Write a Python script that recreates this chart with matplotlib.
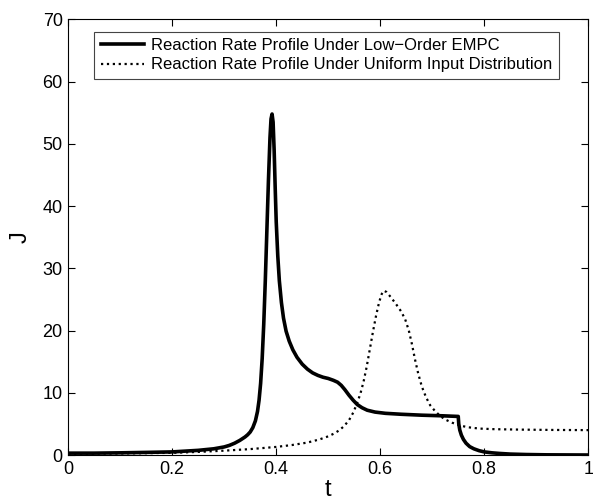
import matplotlib
matplotlib.use("Agg")
import matplotlib.pyplot as plt
import numpy as np

# reaction rate under low-order EMPC (solid)
t_empc = [0, 0.05, 0.1, 0.15, 0.2, 0.25, 0.28, 0.30, 0.31, 0.32, 0.33, 0.34, 0.345,
          0.35, 0.355, 0.36, 0.364, 0.367, 0.370, 0.373, 0.376, 0.379, 0.382, 0.385,
          0.388, 0.390, 0.392, 0.394, 0.396, 0.398, 0.400, 0.403, 0.406, 0.410,
          0.414, 0.419, 0.425, 0.432, 0.440, 0.450, 0.460, 0.470, 0.480, 0.490,
          0.500, 0.510, 0.518, 0.525, 0.532, 0.540, 0.548, 0.556, 0.565, 0.575,
          0.590, 0.610, 0.640, 0.680, 0.720, 0.750, 0.751, 0.753, 0.756, 0.760,
          0.765, 0.772, 0.780, 0.790, 0.800, 0.815, 0.830, 0.850, 0.880, 0.920, 1.0]
J_empc = [0.3, 0.3, 0.35, 0.42, 0.5, 0.75, 1.0, 1.3, 1.55, 1.9, 2.35, 2.9, 3.25,
          3.7, 4.4, 5.5, 7.0, 8.8, 11.5, 15.5, 21, 28, 36, 44,
          51, 54, 54.8, 53.5, 49, 43, 37.5, 32, 28, 24.5,
          22, 19.9, 18.3, 16.9, 15.7, 14.6, 13.8, 13.2, 12.8, 12.5,
          12.3, 12.0, 11.7, 11.2, 10.5, 9.6, 8.8, 8.1, 7.6, 7.2,
          6.9, 6.7, 6.55, 6.4, 6.3, 6.2, 5.0, 4.0, 3.2, 2.5,
          1.9, 1.35, 1.0, 0.7, 0.5, 0.35, 0.25, 0.15, 0.08, 0.03, 0.0]

# reaction rate under uniform input distribution (dotted)
t_unif = [0, 0.1, 0.2, 0.25, 0.3, 0.35, 0.4, 0.43, 0.46, 0.483, 0.50, 0.51, 0.52,
          0.53, 0.54, 0.548, 0.555, 0.562, 0.568, 0.574, 0.580, 0.586, 0.592,
          0.598, 0.603, 0.607, 0.612, 0.620, 0.630, 0.640, 0.648, 0.655, 0.661,
          0.667, 0.673, 0.680, 0.688, 0.696, 0.705, 0.715, 0.725, 0.738, 0.755,
          0.770, 0.790, 0.82, 0.87, 0.93, 1.0]
J_unif = [0.2, 0.25, 0.35, 0.5, 0.7, 0.95, 1.3, 1.6, 2.0, 2.5, 3.0, 3.4, 3.9,
          4.6, 5.6, 6.8, 8.2, 9.9, 11.8, 14.2, 17.0, 19.8, 22.4,
          24.6, 25.9, 26.4, 26.2, 25.4, 24.3, 23.1, 21.8, 20.0, 17.8,
          15.3, 13.1, 11.0, 9.3, 8.0, 7.1, 6.3, 5.7, 5.2, 4.7,
          4.45, 4.25, 4.15, 4.08, 4.03, 4.0]

xticks = [0, 0.2, 0.4, 0.6, 0.8, 1]
xlabels = ["0", "0.2", "0.4", "0.6", "0.8", "1"]
yticks = list(range(0, 71, 10))

plt.rcParams['font.family'] = ['Liberation Sans', 'DejaVu Sans']

fig = plt.figure(figsize=(5.93, 5.03), dpi=100)
ax = fig.add_axes([0.115, 0.0954, 0.877, 0.866])

ax.plot(t_empc, J_empc, color='black', linewidth=2.6,
        label='Reaction Rate Profile Under Low\u2212Order EMPC')
ax.plot(t_unif, J_unif, color='black', linewidth=1.6, linestyle=':',
        label='Reaction Rate Profile Under Uniform Input Distribution')

ax.set_xlim(0, 1)
ax.set_ylim(0, 70)
ax.set_xticks(xticks)
ax.set_xticklabels(xlabels)
ax.set_yticks(yticks)
ax.tick_params(direction='in', top=True, right=True, length=5, labelsize=13, pad=4)
for s in ax.spines.values():
    s.set_linewidth(0.8)

ax.set_xlabel('t', fontsize=17, labelpad=1)
ax.set_ylabel('J', fontsize=17, labelpad=8)

leg = ax.legend(loc='upper center', bbox_to_anchor=(0.497, 0.972), fontsize=12,
                fancybox=False, edgecolor='#444444', handlelength=2.6,
                handletextpad=0.4, borderpad=0.4, labelspacing=0.25,
                borderaxespad=0, framealpha=1)
leg.get_frame().set_linewidth(0.8)

fig.savefig('out.png', dpi=100)
